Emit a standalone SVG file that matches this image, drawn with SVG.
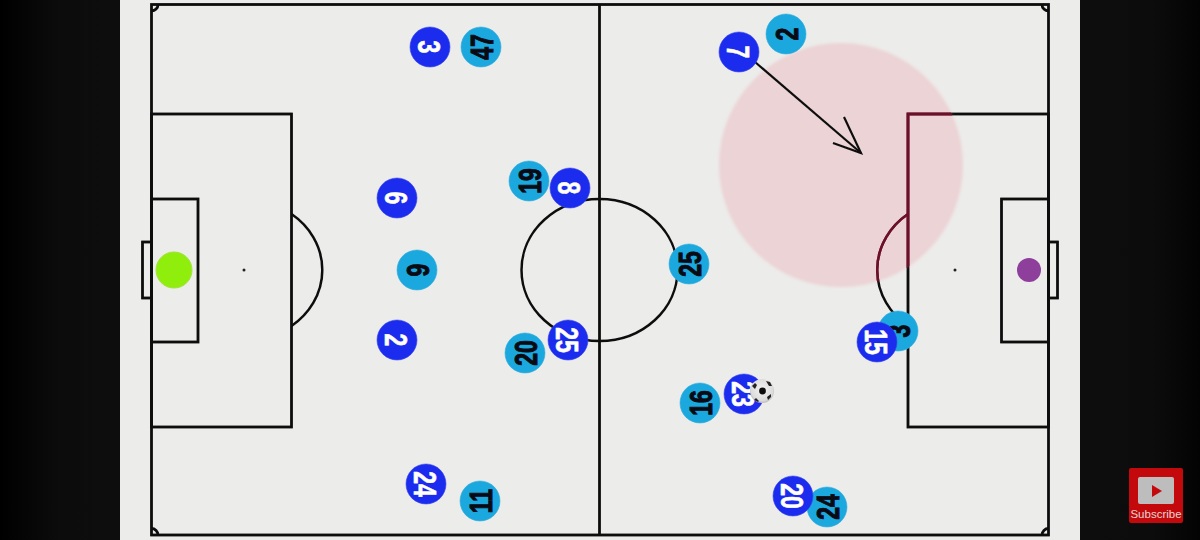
<svg xmlns="http://www.w3.org/2000/svg" width="1200" height="540" viewBox="0 0 1200 540">
<style>
.ln{fill:none;stroke:#111;stroke-width:2.800}
.rd{fill:none;stroke:#70102a;stroke-width:2.800}
.th{stroke-width:2.500}
.bl{fill:#1c2cee;stroke:#3a48ee;stroke-width:.6}
.cy{fill:#1aa8de;stroke:#38aedb;stroke-width:.6}
.tb{font:bold 32px "Liberation Sans",sans-serif;fill:#fff;text-anchor:middle;stroke:#fff;stroke-width:.6}
.tc{font:bold 32px "Liberation Sans",sans-serif;fill:#0a0a14;text-anchor:middle;stroke:#0a0a14;stroke-width:1}
</style>
<defs>
<linearGradient id="lg" x1="0" x2="1" y1="0" y2="0"><stop offset="0" stop-color="#000"/><stop offset=".5" stop-color="#0c0c0c"/><stop offset="1" stop-color="#0d0d0d"/></linearGradient>
<linearGradient id="rg" x1="0" x2="1" y1="0" y2="0"><stop offset="0" stop-color="#0d0d0d"/><stop offset=".6" stop-color="#0c0c0c"/><stop offset="1" stop-color="#030303"/></linearGradient>
<radialGradient id="bg" cx=".5" cy=".45" r=".6"><stop offset="0" stop-color="#f4f4f4"/><stop offset=".75" stop-color="#dcdcdc"/><stop offset="1" stop-color="#a8a8a8"/></radialGradient>
<filter id="s" x="-5%" y="-5%" width="110%" height="110%"><feGaussianBlur stdDeviation="0.5"/></filter>
<filter id="p" x="-5%" y="-5%" width="110%" height="110%"><feGaussianBlur stdDeviation="1.800"/></filter>
<clipPath id="zc"><circle cx="841" cy="165" r="122"/></clipPath>
</defs>
<rect width="120" height="540" fill="url(#lg)"/>
<rect x="1080" width="120" height="540" fill="url(#rg)"/>
<rect x="120" width="960" height="540" fill="#ececeb"/>
<g id="pitch" filter="url(#s)">
<rect class="ln" x="151.500" y="4.500" width="897" height="530.500"/>
<path class="ln" d="M599.500 5V535"/>
<ellipse class="ln th" cx="599.500" cy="270" rx="78" ry="71"/>
<rect class="ln" x="151.500" y="114" width="140" height="313"/>
<rect class="ln" x="151.500" y="199" width="46.500" height="143"/>
<rect class="ln" x="142.500" y="242" width="9" height="56"/>
<path class="ln th" d="M291.500 214A77 70 0 0 1 291.500 326"/>
<rect class="ln" x="908" y="114" width="140.500" height="313"/>
<rect class="ln" x="1001.500" y="199" width="47" height="143"/>
<rect class="ln" x="1048.500" y="242" width="9" height="56"/>
<path class="ln th" d="M908 214A77 70 0 0 0 908 326"/>
<path class="ln" d="M151.500 11A6.500 6.500 0 0 0 158 4.500M1042 4.500A6.500 6.500 0 0 0 1048.500 11M151.500 528.500A6.500 6.500 0 0 1 158 535M1042 535A6.500 6.500 0 0 1 1048.500 528.500"/>
<circle cx="244" cy="270" r="1.500" fill="#222"/>
<circle cx="955" cy="270" r="1.500" fill="#222"/>
</g>
<circle id="zone" cx="841" cy="165" r="122" fill="#ee8f97" fill-opacity=".27" filter="url(#p)"/>
<g id="zone-lines" clip-path="url(#zc)" filter="url(#s)">
<path class="rd" d="M908 300V114H970"/>
<path class="rd th" d="M908 214A77 70 0 0 0 908 326"/>
</g>
<g id="connectors" filter="url(#s)">
<path d="M755 62L861 153" fill="none" stroke="#111" stroke-width="2.200"/>
<path d="M844 117L861 153L833 143" fill="none" stroke="#111" stroke-width="2.200"/>
</g>
<g id="gk-left"><circle cx="174" cy="270" r="18" fill="#8fee0c" stroke="#a3e23c"/></g>
<g id="gk-right"><circle cx="1029" cy="270" r="12" fill="#8e3f9c"/></g>
<g id="c-47"><circle class="cy" cx="481" cy="47" r="20"/><text class="tc" transform="translate(481 47) rotate(-90) scale(.72 1)" y="11.500">47</text></g>
<g id="c-2a"><circle class="cy" cx="786" cy="34" r="20"/><text class="tc" transform="translate(786 34) rotate(-90) scale(.72 1)" y="11.500">2</text></g>
<g id="c-19"><circle class="cy" cx="529" cy="181" r="20"/><text class="tc" transform="translate(529 181) rotate(-90) scale(.72 1)" y="11.500">19</text></g>
<g id="c-9"><circle class="cy" cx="417" cy="270" r="20"/><text class="tc" transform="translate(417 270) rotate(-90) scale(.72 1)" y="11.500">9</text></g>
<g id="c-25"><circle class="cy" cx="689" cy="264" r="20"/><text class="tc" transform="translate(689 264) rotate(-90) scale(.72 1)" y="11.500">25</text></g>
<g id="c-20"><circle class="cy" cx="525" cy="353" r="20"/><text class="tc" transform="translate(525 353) rotate(-90) scale(.72 1)" y="11.500">20</text></g>
<g id="c-3"><circle class="cy" cx="898" cy="331" r="20"/><text class="tc" transform="translate(898 331) rotate(-90) scale(.72 1)" y="11.500">3</text></g>
<g id="c-16"><circle class="cy" cx="700" cy="403" r="20"/><text class="tc" transform="translate(700 403) rotate(-90) scale(.72 1)" y="11.500">16</text></g>
<g id="c-11"><circle class="cy" cx="480" cy="501" r="20"/><text class="tc" transform="translate(480 501) rotate(-90) scale(.72 1)" y="11.500">11</text></g>
<g id="c-24"><circle class="cy" cx="827" cy="507" r="20"/><text class="tc" transform="translate(827 507) rotate(-90) scale(.72 1)" y="11.500">24</text></g>
<g id="b-3"><circle class="bl" cx="430" cy="47" r="20"/><text class="tb" transform="translate(430 47) rotate(90) scale(.72 1)" y="11.500">3</text></g>
<g id="b-7"><circle class="bl" cx="739" cy="52" r="20"/><text class="tb" transform="translate(739 52) rotate(90) scale(.72 1)" y="11.500">7</text></g>
<g id="b-6"><circle class="bl" cx="397" cy="198" r="20"/><text class="tb" transform="translate(397 198) rotate(90) scale(.72 1)" y="11.500">6</text></g>
<g id="b-8"><circle class="bl" cx="570" cy="188" r="20"/><text class="tb" transform="translate(570 188) rotate(90) scale(.72 1)" y="11.500">8</text></g>
<g id="b-2"><circle class="bl" cx="397" cy="340" r="20"/><text class="tb" transform="translate(397 340) rotate(90) scale(.72 1)" y="11.500">2</text></g>
<g id="b-25"><circle class="bl" cx="568" cy="340" r="20"/><text class="tb" transform="translate(568 340) rotate(90) scale(.72 1)" y="11.500">25</text></g>
<g id="b-15"><circle class="bl" cx="877" cy="342" r="20"/><text class="tb" transform="translate(877 342) rotate(90) scale(.72 1)" y="11.500">15</text></g>
<g id="b-23"><circle class="bl" cx="744" cy="394" r="20"/><text class="tb" transform="translate(744 394) rotate(90) scale(.72 1)" y="11.500">23</text></g>
<g id="b-24"><circle class="bl" cx="426" cy="484" r="20"/><text class="tb" transform="translate(426 484) rotate(90) scale(.72 1)" y="11.500">24</text></g>
<g id="b-20"><circle class="bl" cx="793" cy="496" r="20"/><text class="tb" transform="translate(793 496) rotate(90) scale(.72 1)" y="11.500">20</text></g>
<g id="ball" filter="url(#s)">
<circle cx="762" cy="391" r="12" fill="url(#bg)"/>
<circle cx="762.500" cy="391" r="3.400" fill="#111"/>
<path d="M752 386l3-3 2 2-2 4zM766 381l4 1 2 4-3 0zM771 394l0 3-3 3-1-3zM756 398l3 3-1 1-4-2z" fill="#222"/>
</g>
<g id="subscribe">
<rect x="1129" y="468" width="54" height="55" rx="2" fill="#c4090c"/>
<rect x="1138" y="477" width="36" height="27" rx="2" fill="#bdbdbd"/>
<path d="M1152 485L1162 491L1152 497Z" fill="#c4090c"/>
<text x="1156" y="518" font-family="'Liberation Sans',sans-serif" font-size="11.500" fill="#e6d4d4" text-anchor="middle">Subscribe</text>
</g>
</svg>
